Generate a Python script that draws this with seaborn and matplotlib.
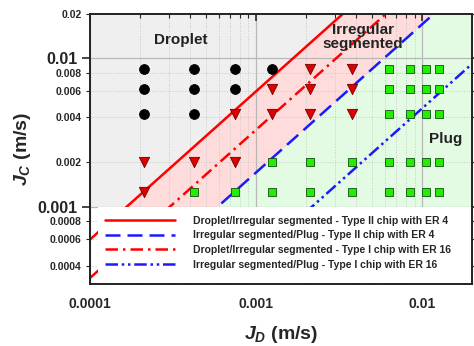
import matplotlib
matplotlib.use("Agg")
import matplotlib.pyplot as plt
from matplotlib.ticker import FixedLocator, NullFormatter, LogLocator
from matplotlib.patches import Rectangle
import numpy as np
import pandas as pd
import seaborn as sns

# measured superficial velocities (m/s)
jd_cols = [0.00021, 0.00042, 0.00075, 0.00125, 0.0021, 0.0038, 0.0063, 0.0084, 0.0105, 0.0126]
jc_rows = [0.0085, 0.0062, 0.0042, 0.0020, 0.00125]
# flow regime per row: D = droplet, I = irregular segmented, P = plug
regime_rows = [
    "DDDDIIPPPP",
    "DDDIIIPPPP",
    "DDIIIIPPPP",
    "IIIPPPPPPP",
    "IPPPPPPPPP",
]

# transition lines J_C = k * J_D
line_labels = [
    "Droplet/Irregular segmented - Type II chip with ER 4",
    "Irregular segmented/Plug - Type II chip with ER 4",
    "Droplet/Irregular segmented - Type I chip with ER 16",
    "Irregular segmented/Plug - Type I chip with ER 16",
]
line_k = [6.0, 1.7, 3.3, 0.46]

rows = []
for jc, regs in zip(jc_rows, regime_rows):
    for jd, r in zip(jd_cols, regs):
        rows.append({"jd": jd, "jc": jc, "regime": r})
df = pd.DataFrame(rows)

sns.set_style("ticks")
plt.rcParams["font.family"] = ["Liberation Sans", "DejaVu Sans"]
plt.rcParams["font.weight"] = "bold"
plt.rcParams["mathtext.fontset"] = "custom"
plt.rcParams["mathtext.it"] = "Liberation Sans:italic:bold"
plt.rcParams["mathtext.rm"] = "Liberation Sans:bold"

fig = plt.figure(figsize=(4.74, 3.46), dpi=100)
ax = fig.add_axes([0.19, 0.179, 0.806, 0.781])
ax.set_xscale("log")
ax.set_yscale("log")
xmin, xmax = 1e-4, 0.02
ymin, ymax = 3e-4, 0.02
ax.set_xlim(xmin, xmax)
ax.set_ylim(ymin, ymax)

# regime shading (only above 0.001)
xx = np.geomspace(xmin, xmax, 400)
floor = 0.001
up = np.clip(line_k[0] * xx, floor, ymax)
lo = np.clip(line_k[1] * xx, floor, ymax)
ax.fill_between(xx, up, ymax, color="#efefef", lw=0, zorder=0)
ax.fill_between(xx, lo, up, color="#ffdcdc", lw=0, zorder=0)
ax.fill_between(xx, floor, lo, color="#e3fbe3", lw=0, zorder=0)

# grid
ax.grid(True, which="major", color="#b8b8b8", lw=0.9, ls="-", zorder=0.5)
ax.grid(True, which="minor", color="#c8c8c8", lw=0.7, ls=":", zorder=0.5)

styles = [
    dict(color="#ff0000", ls="-"),
    dict(color="#1a1aff", ls=(0, (6, 2.8))),
    dict(color="#ff0000", ls=(0, (5, 2, 1, 2))),
    dict(color="#1a1aff", ls=(0, (5, 1.5, 1, 1.5, 1, 1.5))),
]
xl = np.array([xmin, xmax])
for k, lab, st in zip(line_k, line_labels, styles):
    ax.plot(xl, k * xl, lw=1.8, label=lab, zorder=2, **st)

sns.scatterplot(data=df[df.regime == "D"], x="jd", y="jc", marker="o", s=50,
                color="black", edgecolor="black", linewidth=0.6, ax=ax, zorder=3, legend=False)
sns.scatterplot(data=df[df.regime == "I"], x="jd", y="jc", marker="v", s=55,
                color="#e00000", edgecolor="#700000", linewidth=0.6, ax=ax, zorder=3, legend=False)
sns.scatterplot(data=df[df.regime == "P"], x="jd", y="jc", marker="s", s=38,
                color="#22ee00", edgecolor="#105010", linewidth=0.6, ax=ax, zorder=3, legend=False)

ax.text(3.5e-4, 0.0134, "Droplet", ha="center", va="center", fontsize=11, fontweight="bold", color="#222222")
ax.text(0.0044, 0.0139, "Irregular\nsegmented", ha="center", va="center", fontsize=11,
        fontweight="bold", color="#222222", linespacing=1.0)
ax.text(0.0139, 0.00284, "Plug", ha="center", va="center", fontsize=11, fontweight="bold", color="#222222")

# white box behind the legend, covering the lower band
ax.add_patch(Rectangle((0.022, 0.0), 0.978, 0.285, transform=ax.transAxes,
                       facecolor="white", edgecolor="none", zorder=3.5))

# ticks
ax.xaxis.set_major_locator(FixedLocator([1e-4, 1e-3, 1e-2]))
ax.xaxis.set_minor_locator(LogLocator(base=10, subs=np.arange(2, 10)))
ax.xaxis.set_minor_formatter(NullFormatter())
ax.set_xticklabels(["0.0001", "0.001", "0.01"], fontsize=10, fontweight="bold")
ax.yaxis.set_major_locator(FixedLocator([1e-3, 1e-2]))
ax.set_yticklabels(["0.001", "0.01"], fontsize=11.5, fontweight="bold")
ymin_ticks = [0.0004, 0.0006, 0.0008, 0.002, 0.004, 0.006, 0.008, 0.02]
ax.yaxis.set_minor_locator(FixedLocator(ymin_ticks))
ax.set_yticklabels([f"{v:g}" if v >= 0.001 else f"{v:.4f}" for v in ymin_ticks], minor=True,
                   fontsize=7.5, fontweight="bold")
ax.tick_params(axis="x", which="both", direction="in", top=True, bottom=True, pad=9)
ax.tick_params(axis="x", which="major", length=5, width=1.2)
ax.tick_params(axis="x", which="minor", length=3, width=0.8)
ax.tick_params(axis="y", which="both", direction="out", left=True, right=True, pad=3)
ax.tick_params(axis="y", which="major", length=6, width=1.2)
ax.tick_params(axis="y", which="minor", length=3, width=0.8)
for s in ax.spines.values():
    s.set_linewidth(1.4)
    s.set_color("#222222")
    s.set_zorder(5)

ax.set_xlabel(r"$J_D$ (m/s)", fontsize=14, fontweight="bold", labelpad=10)
ax.set_ylabel(r"$J_C$ (m/s)", fontsize=14, fontweight="bold", labelpad=3)

leg = ax.legend(loc="upper left", bbox_to_anchor=(0.03, 0.265, 0.96, 0.0), mode="expand",
                borderaxespad=0, frameon=False,
                prop={"size": 7.5, "weight": "bold"}, handlelength=6.8,
                handletextpad=1.7, labelspacing=0.45, borderpad=0.3)
leg.set_zorder(4)

fig.savefig("out.png", dpi=100)
